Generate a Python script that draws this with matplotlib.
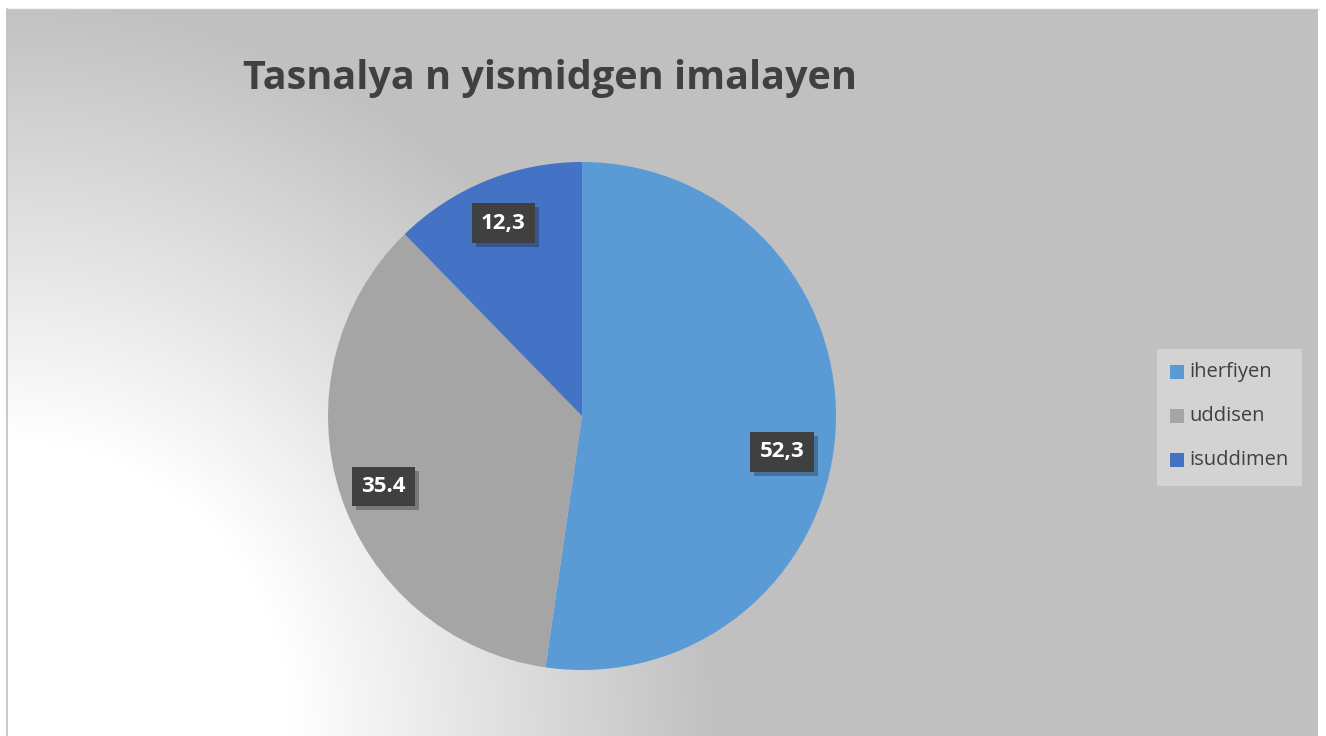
import numpy as np
import matplotlib
matplotlib.use("Agg")
import matplotlib.pyplot as plt
from matplotlib.patches import Rectangle
import matplotlib.patheffects as pe

# ---- data ----
categories = ["iherfiyen", "uddisen", "isuddimen"]
values = [52.3, 35.4, 12.3]
value_labels = ["52,3", "35.4", "12,3"]
colors = ["#5B9BD5", "#A5A5A5", "#4472C4"]
title = "Tasnalya n yismidgen imalayen"

W, H = 1326, 736
fig = plt.figure(figsize=(W / 100, H / 100), dpi=100)
fig.patch.set_facecolor("white")

# ---- background with elliptical radial gradient ----
bx0, by0, bx1, by1 = 7, 9, 1318, 736  # pixel coords (top-left origin)
bg = fig.add_axes([bx0 / W, 1 - by1 / H, (bx1 - bx0) / W, (by1 - by0) / H])
bg.set_axis_off()
xs = np.arange(bx0, bx1)
ys = np.arange(by0, by1)
X, Y = np.meshgrid(xs, ys)
rn = np.hypot((X - 8) / 710.0, (Y - 736) / 740.0)
t = np.clip((rn - 0.40) / 0.60, 0, 1)
val = (255 - t * (255 - 192)) / 255.0
img = np.dstack([val, val, val])
bg.imshow(img, extent=[0, 1, 0, 1], aspect="auto", interpolation="bilinear")
bg.set_xlim(0, 1)
bg.set_ylim(0, 1)
# borders
fig.add_artist(plt.Line2D([bx0 / W, bx0 / W], [0, 1 - by0 / H], color="#BFBFBF", lw=1.2))
fig.add_artist(plt.Line2D([bx0 / W, bx1 / W], [1 - by0 / H, 1 - by0 / H], color="#C8C8C8", lw=1.0))

# ---- title ----
fig.text(550 / W, 1 - 78 / H, title, ha="center", va="center",
         fontsize=28.5, fontweight="bold", color="#404040", family="Open Sans")

# ---- pie ----
cx, cy, r = 582, 416, 254
ax = fig.add_axes([(cx - r) / W, 1 - (cy + r) / H, 2 * r / W, 2 * r / H])
ax.set_axis_off()
wedges, _ = ax.pie(values, colors=colors, startangle=90, counterclock=False,
                   radius=1.0, wedgeprops=dict(linewidth=0))
ax.set_xlim(-1, 1)
ax.set_ylim(-1, 1)

label_r = [0.80, 0.83, 0.82]
angle_adj = [-6, 1.5, 0]
for w, lab, rr, adj in zip(wedges, value_labels, label_r, angle_adj):
    ang = np.deg2rad((w.theta1 + w.theta2) / 2 + adj)
    x, y = rr * np.cos(ang), rr * np.sin(ang)
    ax.text(x, y, lab, ha="center", va="center", fontsize=16, fontweight="bold",
            color="white", family="Open Sans",
            bbox=dict(boxstyle="square,pad=0.42", facecolor="#404040", edgecolor="none",
                      path_effects=[pe.SimplePatchShadow(offset=(3, -3), alpha=0.3),
                                    pe.Normal()]))

# ---- legend ----
lx0, ly0, lx1, ly1 = 1157, 349, 1302, 486
fig.add_artist(Rectangle((lx0 / W, 1 - ly1 / H), (lx1 - lx0) / W, (ly1 - ly0) / H,
                         transform=fig.transFigure, facecolor="#D3D3D3", edgecolor="none"))
item_y = [372, 416, 460]
for cat, col, iy in zip(categories, colors, item_y):
    fig.add_artist(Rectangle((1170 / W, 1 - (iy + 7) / H), 14 / W, 14 / H,
                             transform=fig.transFigure, facecolor=col, edgecolor="none"))
    fig.text(1189 / W, 1 - iy / H, cat, ha="left", va="center", fontsize=14.5,
             color="#404040", family="Open Sans")

fig.savefig("out.png", dpi=100)
